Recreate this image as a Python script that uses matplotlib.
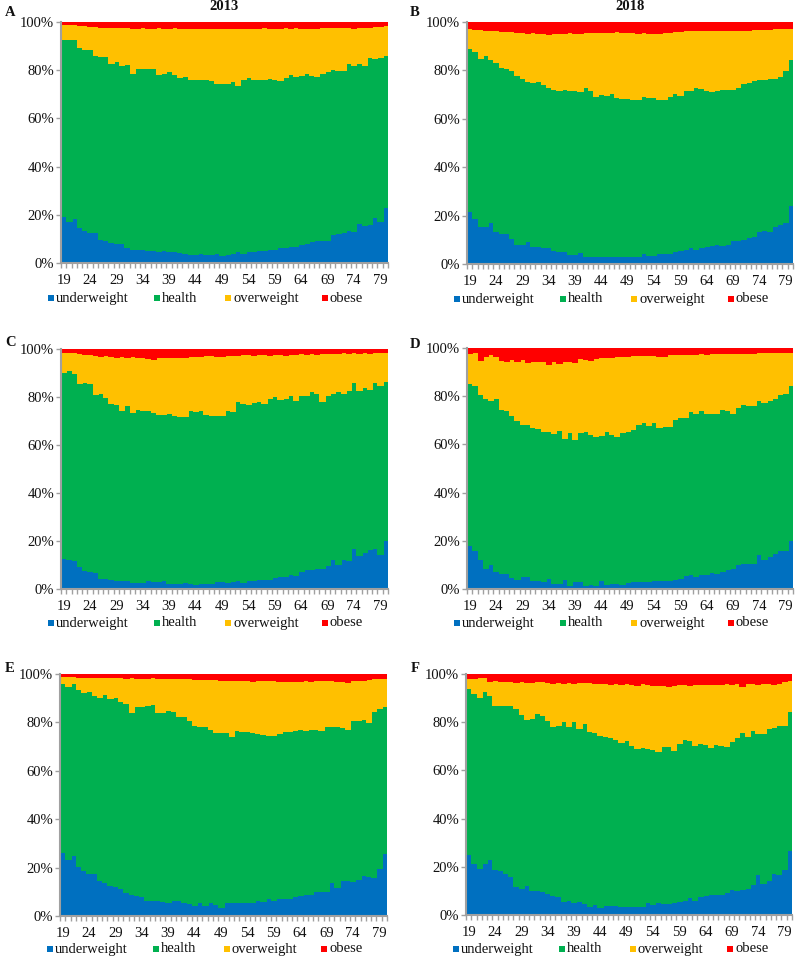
import matplotlib
matplotlib.use('Agg')
import matplotlib.pyplot as plt
from matplotlib.patches import Rectangle
import numpy as np

plt.rcParams['font.family'] = ['Liberation Serif', 'DejaVu Serif']

# ---------------- data ----------------
ages = list(range(19, 81))
tick_ages = [19, 24, 29, 34, 39, 44, 49, 54, 59, 64, 69, 74, 79]
categories = ['underweight', 'health', 'overweight', 'obese']
colors = ['#0070C0', '#00B050', '#FFC000', '#FF0000']
col_titles = ['2013', '2018']
panel_letters = ['A', 'B', 'C', 'D', 'E', 'F']

# cumulative boundaries (%): top of underweight, top of health, top of overweight
A_under = [19.6, 17.5, 18.6, 15.0, 13.6, 12.9, 12.9, 10.1, 9.5, 8.7,
           8.4, 8.1, 6.7, 6.0, 5.9, 5.7, 5.5, 5.3, 5.0, 5.3,
           4.8, 4.8, 4.5, 4.2, 3.9, 3.6, 4.3, 3.6, 3.9, 4.2,
           3.5, 3.9, 4.2, 4.8, 4.2, 4.9, 4.9, 5.3, 5.3, 5.9,
           5.9, 6.6, 6.6, 7.0, 7.0, 7.7, 8.4, 9.0, 9.4, 9.5,
           9.4, 12.2, 12.3, 12.9, 13.6, 13.3, 16.4, 15.7, 16.1, 18.9,
           17.5, 23.4]
A_health = [93.0, 93.0, 93.0, 89.5, 89.0, 89.0, 86.5, 86.0, 86.0, 83.0,
            84.0, 82.0, 82.5, 79.0, 81.0, 81.0, 81.0, 81.0, 78.5, 79.0,
            79.5, 78.5, 77.0, 77.5, 76.5, 76.5, 76.5, 76.5, 76.0, 74.5,
            74.5, 74.7, 75.5, 74.0, 76.5, 77.0, 76.5, 76.5, 76.5, 76.7,
            76.5, 76.0, 77.0, 78.5, 77.5, 78.0, 79.0, 78.0, 77.5, 79.0,
            79.5, 80.5, 80.0, 80.0, 83.0, 82.0, 83.0, 82.0, 85.5, 85.0,
            85.5, 86.5]
A_over = [99.0, 99.0, 99.0, 98.8, 98.8, 98.5, 98.2, 98.0, 97.8, 98.0,
          97.8, 98.0, 97.8, 97.6, 97.6, 97.8, 97.6, 97.7, 97.8, 97.6,
          97.6, 97.8, 97.7, 97.6, 97.7, 97.6, 97.5, 97.6, 97.6, 97.5,
          97.6, 97.5, 97.6, 97.7, 97.6, 97.7, 97.6, 97.7, 97.8, 97.6,
          97.6, 97.7, 97.8, 97.6, 97.8, 97.7, 97.6, 97.5, 97.7, 97.8,
          97.8, 97.8, 97.9, 97.8, 98.0, 97.7, 98.0, 98.0, 98.0, 98.2,
          98.4, 98.8]

B_under = [22.1, 18.9, 15.8, 15.8, 17.2, 13.7, 13.0, 12.7, 10.9, 8.4,
           8.4, 9.4, 7.4, 7.4, 7.0, 7.0, 5.7, 5.3, 5.3, 4.3,
           4.3, 4.9, 3.5, 3.2, 3.2, 3.5, 3.5, 3.5, 3.2, 3.5,
           3.5, 3.5, 3.5, 4.6, 3.9, 3.9, 4.6, 4.6, 4.6, 5.3,
           5.6, 6.4, 7.0, 6.0, 7.0, 7.4, 7.7, 8.1, 7.7, 8.1,
           9.8, 9.8, 10.5, 11.2, 11.6, 13.7, 14.1, 13.7, 15.8, 16.5,
           17.5, 24.2]
B_health = [89.4, 88.0, 85.2, 86.2, 84.8, 83.4, 81.4, 81.0, 80.0, 78.3,
            76.7, 75.6, 75.2, 75.6, 74.2, 73.1, 72.4, 72.1, 72.4, 72.1,
            71.7, 71.4, 73.2, 72.1, 69.4, 70.1, 69.7, 70.5, 69.1, 68.7,
            68.7, 68.3, 68.0, 69.4, 69.1, 69.1, 68.0, 68.3, 69.4, 70.8,
            70.0, 72.1, 72.1, 73.2, 72.8, 72.1, 71.4, 72.1, 72.4, 72.4,
            72.4, 73.2, 74.9, 75.2, 75.9, 76.3, 76.6, 77.0, 77.0, 77.7,
            80.0, 84.8]
B_over = [97.7, 97.2, 97.0, 96.6, 96.8, 96.5, 96.3, 96.2, 96.3, 96.0,
          96.0, 95.6, 95.8, 95.6, 95.4, 95.2, 95.3, 95.6, 95.5, 95.8,
          95.6, 95.6, 95.8, 95.9, 95.7, 95.9, 95.9, 96.0, 96.1, 96.0,
          96.0, 95.9, 95.6, 95.8, 95.6, 95.6, 95.6, 95.9, 96.0, 96.3,
          96.3, 96.5, 96.6, 96.6, 96.5, 96.6, 96.6, 96.7, 96.6, 96.7,
          96.7, 96.8, 96.8, 96.9, 97.0, 97.0, 97.2, 97.2, 97.6, 97.7,
          97.5, 97.4]

C_under = [13.0, 12.3, 12.0, 9.5, 7.8, 7.4, 7.0, 4.6, 4.6, 4.2,
           3.6, 3.9, 3.6, 2.8, 2.8, 2.8, 3.6, 3.5, 3.2, 3.9,
           2.5, 2.5, 2.5, 2.8, 2.5, 2.1, 2.5, 2.5, 2.5, 3.5,
           3.2, 2.9, 3.5, 3.9, 2.9, 3.9, 3.9, 4.2, 4.3, 4.3,
           5.0, 5.6, 5.6, 6.4, 6.0, 7.4, 8.4, 8.4, 8.8, 8.8,
           10.2, 12.3, 10.6, 12.3, 12.0, 17.2, 14.0, 15.4, 16.5, 17.2,
           14.4, 20.3]
C_health = [90.5, 91.2, 89.8, 86.0, 86.3, 85.9, 81.4, 81.7, 80.0, 77.5,
            77.2, 74.7, 76.5, 73.7, 75.1, 74.7, 74.4, 73.7, 73.0, 73.0,
            73.3, 72.3, 71.9, 71.9, 74.4, 74.1, 74.4, 73.0, 72.3, 72.6,
            72.7, 74.7, 74.0, 78.2, 77.5, 77.2, 77.9, 78.3, 77.5, 79.7,
            80.3, 79.0, 79.7, 80.7, 78.6, 80.7, 80.7, 82.5, 81.7, 78.5,
            81.0, 81.5, 82.5, 81.8, 83.0, 86.3, 82.8, 84.2, 83.5, 86.3,
            84.9, 86.5]
C_over = [98.6, 98.8, 98.6, 98.2, 98.0, 97.8, 97.4, 97.2, 97.5, 97.0,
          96.8, 97.2, 96.6, 97.0, 96.8, 96.5, 96.3, 96.0, 96.8, 96.6,
          96.6, 96.8, 96.8, 96.7, 97.1, 97.2, 97.0, 97.3, 97.4, 97.2,
          97.0, 97.6, 97.4, 97.3, 97.8, 97.9, 97.6, 97.8, 97.8, 97.7,
          97.8, 97.9, 97.7, 97.9, 98.0, 98.2, 97.9, 98.2, 98.0, 98.3,
          98.2, 98.5, 98.4, 98.6, 98.4, 98.6, 98.5, 98.6, 98.4, 98.6,
          98.8, 98.8]

D_under = [18.2, 16.1, 12.3, 8.8, 10.5, 7.4, 6.7, 6.7, 5.0, 4.2,
           5.3, 5.6, 3.6, 3.6, 3.5, 4.6, 2.5, 2.5, 4.2, 1.8,
           3.2, 3.5, 1.8, 2.1, 1.8, 3.9, 2.1, 2.5, 2.5, 2.1,
           2.8, 3.2, 3.2, 3.5, 3.5, 3.6, 3.6, 3.6, 3.9, 4.2,
           4.6, 6.0, 6.4, 5.6, 6.4, 6.4, 7.0, 6.7, 7.4, 8.1,
           8.8, 10.2, 10.9, 10.9, 10.9, 14.4, 12.6, 13.7, 15.1, 16.2,
           16.2, 20.4]
D_health = [85.6, 84.6, 81.1, 79.4, 78.3, 79.4, 74.8, 74.4, 72.0, 70.2,
            68.5, 68.5, 67.4, 66.9, 65.7, 65.7, 64.6, 66.0, 62.7, 65.0,
            62.3, 65.0, 65.7, 64.3, 63.6, 64.0, 65.7, 64.3, 63.6, 65.0,
            65.7, 66.4, 68.5, 69.2, 68.2, 69.5, 67.4, 67.8, 67.8, 70.6,
            71.3, 71.3, 73.8, 73.0, 74.1, 73.0, 73.0, 73.0, 74.8, 74.1,
            73.0, 75.5, 76.9, 76.2, 76.2, 78.3, 77.6, 78.6, 79.4, 81.1,
            81.4, 84.6]
D_over = [97.9, 98.2, 95.1, 96.5, 97.5, 96.5, 95.1, 94.8, 95.4, 94.4,
          95.4, 94.3, 94.4, 94.7, 94.4, 93.4, 94.8, 93.7, 94.8, 94.8,
          94.0, 95.8, 95.4, 95.1, 95.8, 96.1, 96.2, 96.2, 96.5, 96.8,
          96.8, 97.2, 96.9, 96.9, 97.2, 97.2, 96.5, 96.8, 97.5, 97.5,
          97.6, 97.5, 97.7, 97.6, 97.8, 97.7, 97.8, 97.9, 97.8, 97.9,
          97.9, 98.0, 98.0, 97.9, 98.1, 98.3, 98.2, 98.4, 98.3, 98.3,
          98.3, 98.2]

E_under = [26.6, 23.4, 25.2, 20.6, 19.2, 17.8, 17.8, 15.0, 14.0, 13.0,
           12.6, 11.6, 9.8, 9.1, 8.7, 8.4, 6.6, 6.7, 6.6, 6.3,
           5.9, 6.6, 6.6, 5.6, 5.2, 4.6, 5.9, 4.5, 5.6, 4.9,
           3.9, 5.6, 5.6, 5.9, 5.9, 5.9, 5.9, 6.6, 6.3, 7.3,
           6.7, 7.4, 7.4, 7.4, 8.4, 8.7, 9.1, 9.1, 10.5, 10.5,
           10.2, 14.0, 11.9, 15.0, 14.7, 14.4, 15.4, 16.8, 16.4, 16.1,
           20.0, 25.9]
E_health = [96.4, 95.1, 96.4, 93.7, 92.7, 93.0, 91.4, 90.7, 91.8, 90.0,
            90.3, 89.0, 88.2, 84.5, 86.6, 86.8, 87.0, 87.7, 84.1, 84.1,
            85.2, 84.8, 82.5, 82.7, 81.1, 79.0, 78.6, 78.4, 77.3, 75.9,
            75.9, 75.9, 74.2, 76.7, 76.3, 76.3, 75.9, 75.6, 75.2, 74.9,
            74.9, 75.5, 76.3, 76.3, 77.0, 77.3, 77.0, 77.3, 77.3, 77.0,
            78.6, 78.6, 78.4, 78.0, 77.3, 80.8, 80.8, 81.4, 80.0, 84.9,
            85.9, 86.6]
E_over = [99.3, 99.0, 99.3, 98.9, 98.9, 98.8, 98.9, 98.7, 98.8, 98.6,
          98.7, 98.6, 98.5, 98.6, 98.4, 98.4, 98.5, 98.6, 98.3, 98.2,
          98.4, 98.3, 98.3, 98.5, 98.2, 98.0, 98.0, 97.9, 97.8, 97.8,
          97.7, 97.6, 97.6, 97.5, 97.5, 97.6, 97.3, 97.5, 97.4, 97.5,
          97.6, 97.3, 97.3, 97.0, 97.2, 97.3, 97.4, 97.2, 97.5, 97.6,
          97.4, 97.6, 97.3, 97.2, 96.8, 97.6, 97.6, 97.7, 97.9, 98.2,
          98.4, 98.5]

F_under = [25.3, 21.7, 19.7, 21.7, 23.1, 18.9, 18.6, 17.5, 16.1, 11.9,
           11.3, 12.3, 10.2, 10.5, 9.9, 9.1, 8.5, 7.7, 6.0, 6.3,
           5.3, 6.0, 4.9, 3.9, 4.6, 3.5, 4.3, 4.3, 4.3, 3.9,
           3.9, 3.8, 3.8, 3.9, 5.3, 4.6, 5.3, 4.9, 4.9, 5.6,
           5.7, 6.3, 7.4, 6.4, 7.8, 8.1, 8.8, 8.8, 8.8, 9.5,
           10.9, 10.5, 10.9, 11.3, 12.7, 16.9, 13.3, 14.7, 17.5, 17.2,
           18.9, 27.0]
F_health = [94.0, 92.2, 90.5, 93.0, 91.2, 87.0, 87.3, 87.3, 87.0, 85.9,
            83.5, 81.4, 81.8, 83.8, 82.8, 81.0, 78.6, 79.0, 80.4, 78.6,
            80.7, 77.6, 79.6, 76.2, 75.8, 74.8, 74.4, 74.0, 73.0, 71.6,
            72.6, 70.6, 69.2, 69.8, 69.5, 68.8, 68.1, 70.2, 70.2, 68.4,
            71.2, 73.0, 72.6, 70.6, 71.2, 70.9, 69.8, 70.9, 70.6, 70.2,
            72.3, 74.0, 75.8, 74.4, 76.8, 75.4, 75.4, 77.6, 78.0, 79.0,
            79.0, 84.6]
F_over = [98.2, 98.5, 98.7, 98.6, 97.0, 97.4, 97.2, 97.3, 97.2, 96.8,
          96.9, 96.8, 96.6, 97.0, 96.9, 96.6, 96.4, 96.5, 96.3, 96.6,
          96.4, 96.8, 96.6, 96.6, 96.4, 96.3, 96.2, 96.0, 96.2, 95.8,
          96.1, 95.8, 95.6, 96.1, 95.8, 95.4, 95.4, 95.6, 95.0, 95.4,
          95.9, 96.0, 95.6, 96.0, 95.8, 96.0, 95.9, 95.7, 96.0, 96.1,
          95.8, 96.2, 95.0, 96.3, 96.2, 95.9, 96.4, 96.3, 96.0, 96.4,
          97.0, 97.5]

panel_data = [
    (A_under, A_health, A_over), (B_under, B_health, B_over),
    (C_under, C_health, C_over), (D_under, D_health, D_over),
    (E_under, E_health, E_over), (F_under, F_health, F_over),
]

# ---------------- layout (pixels) ----------------
W, H = 796, 959
fig = plt.figure(figsize=(W / 100, H / 100), dpi=100)

# (left, top, right, bottom) of each plot area in px
boxes = [
    (61, 22, 388, 263), (467, 22, 793, 264),
    (61, 349, 388, 589), (467, 348, 793, 589),
    (60, 674, 387, 916), (466, 674, 792, 915),
]
letter_pos = [(5, 13), (410, 13), (5, 343), (410, 345), (5, 668), (411, 669)]
legend_offsets = [-10, 96, 167, 264]
legend_dy = [35, 35, 34, 34, 33, 34]

axis_gray = '#A0A0A0'
text_col = '#111111'
FS = 10.5

x = np.arange(len(ages))
for i, (box, data) in enumerate(zip(boxes, panel_data)):
    l, t, r, b = box
    ax = fig.add_axes([l / W, 1 - b / H, (r - l) / W, (b - t) / H])
    under = np.array(data[0])
    health = np.array(data[1])
    over = np.array(data[2])
    assert len(under) == len(ages) and len(health) == len(ages) and len(over) == len(ages)
    bottoms = [np.zeros(len(ages)), under, health, over]
    tops = [under, health, over, np.full(len(ages), 100.0)]
    for c in range(4):
        ax.bar(x, tops[c] - bottoms[c], bottom=bottoms[c], width=1.0,
               color=colors[c], edgecolor=colors[c], linewidth=0.6,
               antialiased=False)
    ax.set_xlim(-0.5, len(ages) - 0.5)
    ax.set_ylim(0, 100)
    for s in ['top', 'right']:
        ax.spines[s].set_visible(False)
    for s in ['left', 'bottom']:
        ax.spines[s].set_color(axis_gray)
        ax.spines[s].set_linewidth(1.5)
        ax.spines[s].set_zorder(5)
    ax.set_yticks([0, 20, 40, 60, 80, 100])
    ax.set_yticklabels(['0%', '20%', '40%', '60%', '80%', '100%'])
    ax.tick_params(axis='y', length=3.5, width=1, color=axis_gray, pad=1.5,
                   labelsize=FS, labelcolor=text_col)
    ax.set_xticks([ages.index(a) for a in tick_ages])
    ax.set_xticklabels([str(a) for a in tick_ages])
    ax.set_xticks(np.arange(len(ages) + 1) - 0.5, minor=True)
    ax.tick_params(axis='x', which='major', length=0, pad=8,
                   labelsize=FS, labelcolor=text_col)
    ax.tick_params(axis='x', which='minor', length=3.5, width=1, color=axis_gray)

    # legend
    ly = b + legend_dy[i]
    for k in range(4):
        mx = l + legend_offsets[k]
        fig.add_artist(Rectangle(((mx - 3) / W, 1 - (ly + 3) / H), 6 / W, 6 / H,
                                 transform=fig.transFigure, facecolor=colors[k],
                                 edgecolor='none'))
        fig.text((mx + 5) / W, 1 - ly / H, categories[k], fontsize=FS,
                 color=text_col, ha='left', va='center')

    # panel letter
    lx, lyy = letter_pos[i]
    fig.text(lx / W, 1 - lyy / H, panel_letters[i], fontsize=FS, fontweight='bold',
             ha='left', va='center', color=text_col)

    if i < 2:
        fig.text(((l + r) / 2) / W, 1 - 7 / H, col_titles[i], fontsize=FS,
                 fontweight='bold', ha='center', va='center', color=text_col)

fig.savefig('out.png', dpi=100)
